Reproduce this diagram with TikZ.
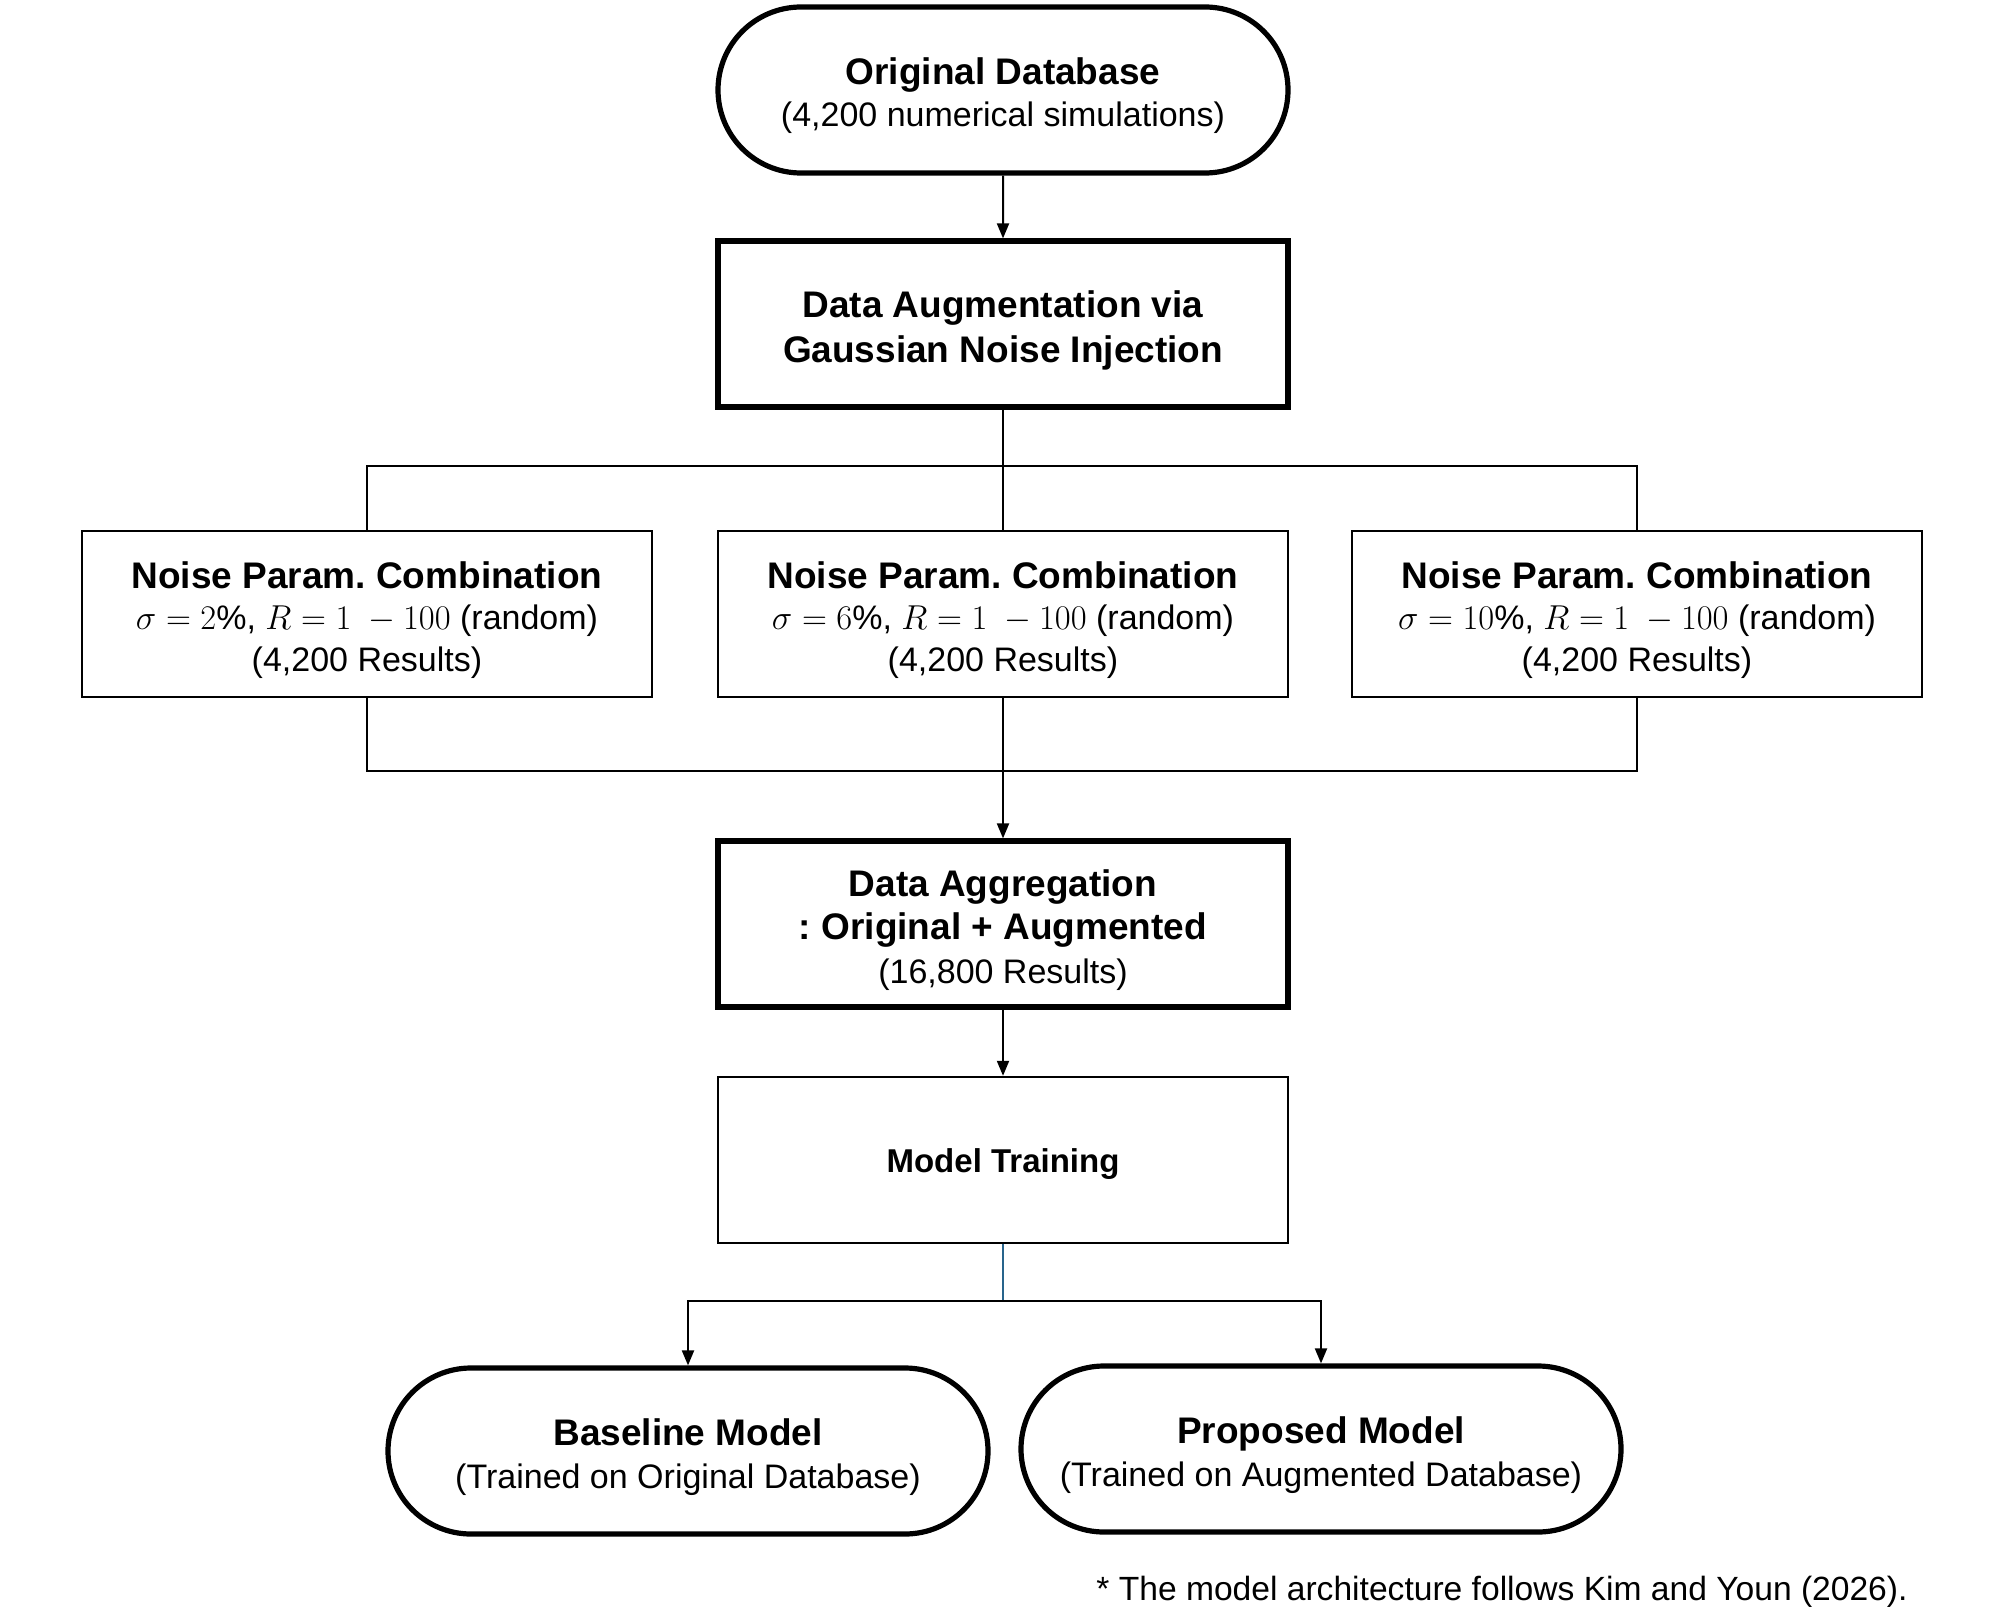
\documentclass[tikz,border=0pt]{standalone}
\usepackage{fontspec}
\setmainfont{Liberation Sans}
\usetikzlibrary{arrows.meta,shapes.misc}
\definecolor{tealline}{RGB}{40,100,140}
\newcommand{\hd}[1]{{\fontsize{18.5}{21}\selectfont\bfseries #1}}
\newcommand{\tp}{\rule{0pt}{19.5pt}}
\frenchspacing
\begin{document}
\begin{tikzpicture}[x=0.5pt,y=-0.5pt,
  every node/.style={font=\fontsize{17}{21}\selectfont, align=center, inner sep=0pt},
  thickbox/.style={draw, rectangle, line width=2.6pt, minimum width=285pt, minimum height=83pt},
  thinbox/.style={draw, rectangle, line width=1.2pt, minimum width=285pt, minimum height=83pt},
  stadium/.style={draw, rounded rectangle, line width=2.6pt, minimum width=300pt, minimum height=83pt},
  conn/.style={line width=1pt},
  arr/.style={conn, -{Triangle[length=7.5pt,width=6pt]}}]
\fill[white] (0,0) rectangle (2008,1616);
\useasboundingbox (0,0) rectangle (2008,1616);

\node[stadium, minimum width=285pt] (orig) at (1003,90) {\tp\hd{Original Database}\\(4,200 numerical simulations)};
\node[thickbox] (aug) at (1003,324) {\hd{\tp Data Augmentation via}\\[1.5pt]\hd{Gaussian Noise Injection}};

\node[thinbox, font=\fontsize{17}{20.8}\selectfont] (n1) at (367,614) {\tp\hd{Noise Param. Combination}\\$\sigma = 2\%$, $R = 1\ - 100$ (random)\\(4,200 Results)};
\node[thinbox, font=\fontsize{17}{20.8}\selectfont] (n2) at (1003,614) {\tp\hd{Noise Param. Combination}\\$\sigma = 6\%$, $R = 1\ - 100$ (random)\\(4,200 Results)};
\node[thinbox, font=\fontsize{17}{20.8}\selectfont] (n3) at (1637,614) {\tp\hd{Noise Param. Combination}\\$\sigma = 10\%$, $R = 1\ - 100$ (random)\\(4,200 Results)};

\node[thickbox, font=\fontsize{17}{21.7}\selectfont] (agg) at (1003,924) {\tp\hd{Data Aggregation}\\\hd{: Original + Augmented}\\(16,800 Results)};
\node[thinbox, font=\fontsize{16.5}{20}\selectfont\bfseries] (train) at (1003,1160) {\rule{0pt}{16pt}Model Training};

\node[stadium, font=\fontsize{17}{21.5}\selectfont] (base) at (688,1451) {\tp\hd{Baseline Model}\\(Trained on Original Database)};
\node[stadium, font=\fontsize{17}{21.5}\selectfont] (prop) at (1321,1449) {\tp\hd{Proposed Model}\\(Trained on Augmented Database)};

\node[anchor=east, font=\fontsize{16.8}{20}\selectfont] (note) at (1908,1592) {* The model architecture follows Kim and Youn (2026).};

\draw[arr] (orig) -- (aug);
\coordinate (s1) at (1003,466);
\draw[conn] (aug.south) -- (s1);
\draw[conn] (n1.north) |- (s1) -| (n3.north);
\draw[conn] (s1) -- (n2.north);
\coordinate (m1) at (1003,771);
\draw[conn] (n1.south) |- (m1) -| (n3.south);
\draw[arr] (n2.south) -- (agg.north);
\draw[arr] (agg) -- (train);
\coordinate (b1) at (1003,1301);
\draw[conn, tealline] (train.south) -- (b1);
\draw[arr] (b1) -| (base.north);
\draw[arr] (b1) -| (prop.north);
\end{tikzpicture}
\end{document}
